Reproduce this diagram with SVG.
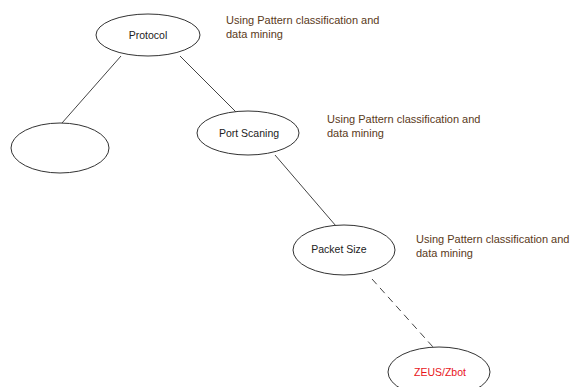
<svg xmlns="http://www.w3.org/2000/svg" width="572" height="387" viewBox="0 0 572 387">
<style>
.n{fill:#fff;stroke:#333;stroke-width:1}
.c{stroke:#444;stroke-width:1;fill:none}
.t{font-family:"Liberation Sans",Arial,sans-serif;font-size:10.5px;fill:#222}
.l{font-family:"Liberation Sans",Arial,sans-serif;font-size:11px;fill:#5a3a1a}
</style>
<rect width="572" height="387" fill="#fff"/>
<g id="connectors">
<line class="c" x1="121" y1="56" x2="62" y2="123"/>
<line class="c" x1="180" y1="56" x2="236" y2="112"/>
<line class="c" x1="275" y1="155" x2="336" y2="226"/>
<line class="c" x1="372" y1="279" x2="433" y2="347" stroke-dasharray="7,5"/>
</g>
<g id="protocol">
<ellipse class="n" cx="148" cy="35" rx="52" ry="21"/>
<text class="t" x="148" y="38.5" text-anchor="middle">Protocol</text>
</g>
<g id="empty">
<ellipse class="n" cx="60" cy="148" rx="49" ry="25"/>
</g>
<g id="port">
<ellipse class="n" cx="248" cy="133" rx="51" ry="22"/>
<text class="t" x="249" y="136.5" text-anchor="middle">Port Scaning</text>
</g>
<g id="packet">
<ellipse class="n" cx="344" cy="250" rx="51" ry="25"/>
<text class="t" x="339" y="253" text-anchor="middle">Packet Size</text>
</g>
<g id="zeus">
<ellipse class="n" cx="439" cy="372" rx="51" ry="25"/>
<text class="t" x="440" y="376" text-anchor="middle" style="fill:#e8141a">ZEUS/Zbot</text>
</g>
<g id="labels">
<text class="l" x="226" y="24">Using Pattern classification and</text>
<text class="l" x="226" y="38">data mining</text>
<text class="l" x="327" y="123">Using Pattern classification and</text>
<text class="l" x="327" y="137">data mining</text>
<text class="l" x="416" y="243">Using Pattern classification and</text>
<text class="l" x="416" y="257">data mining</text>
</g>
</svg>
